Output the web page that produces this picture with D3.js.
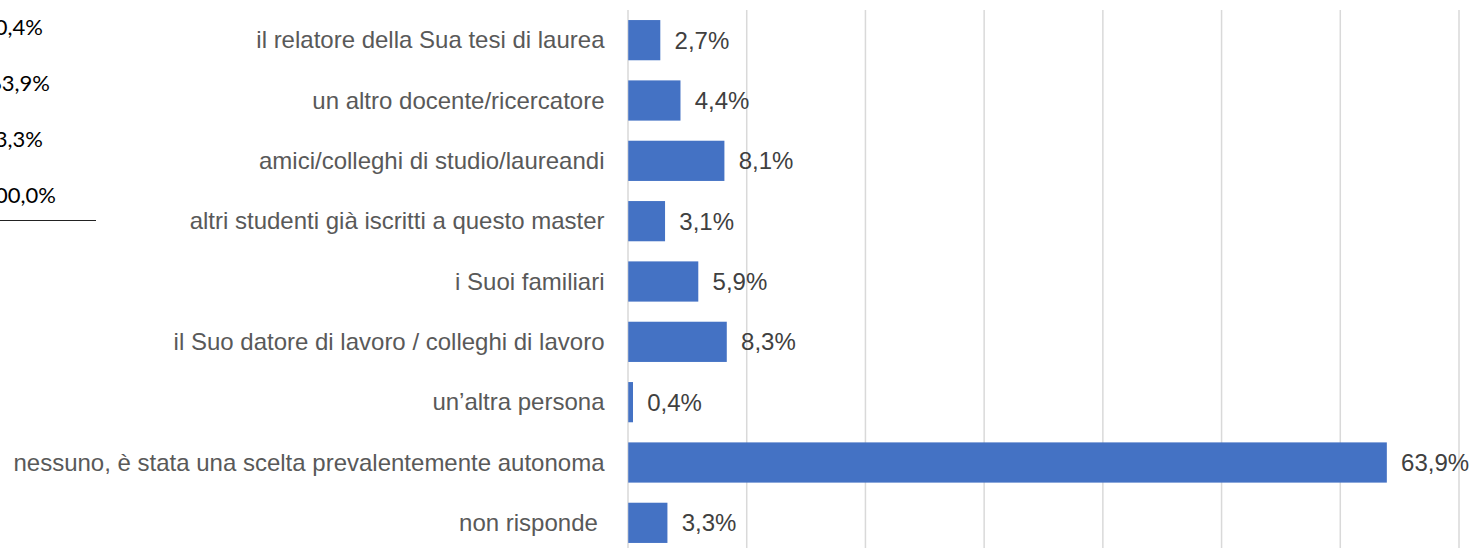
<!DOCTYPE html>
<html lang="it">
  <head>
    <meta charset="UTF-8" />
    <title>Chi ha influito sulla scelta</title>
    <script src="https://d3js.org/d3.v7.min.js"></script>
    <style>
      html,
      body {
        margin: 0;
        padding: 0;
        background: #fff;
        overflow: hidden;
      }
      svg {
        display: block;
      }
      .cat {
        font-family: "Liberation Sans", Arial, sans-serif;
        font-size: 24px;
        fill: #595959;
        white-space: pre;
      }
      .val {
        font-family: "Liberation Sans", Arial, sans-serif;
        font-size: 24px;
        fill: #404040;
      }
      .side {
        font-family: Lato, "Open Sans", sans-serif;
        font-size: 22px;
        fill: #000;
      }
    </style>
  </head>
  <body>
    <svg id="chart" width="1473" height="548"></svg>
    <script>
      // categories and percentages, top to bottom
      const categories = [
        "il relatore della Sua tesi di laurea",
        "un altro docente/ricercatore",
        "amici/colleghi di studio/laureandi",
        "altri studenti già iscritti a questo master",
        "i Suoi familiari",
        "il Suo datore di lavoro / colleghi di lavoro",
        "un\u2019altra persona",
        "nessuno, è stata una scelta prevalentemente autonoma",
        "non risponde ",
      ];
      const values = [2.7, 4.4, 8.1, 3.1, 5.9, 8.3, 0.4, 63.9, 3.3];
      const gridTicks = [0, 10, 20, 30, 40, 50, 60, 70];

      // tail of a table cut off at the left edge of the picture
      const sideLabels = ["0,4%", "63,9%", "3,3%", "100,0%"];

      const svg = d3.select("#chart");

      // plot area
      const plotLeft = 627.5;
      const plotRight = 1458.5;
      const plotTop = 10;
      const plotBottom = 553;

      const x = d3.scaleLinear().domain([0, 70]).range([plotLeft, plotRight]);
      const y = d3
        .scaleBand()
        .domain(categories)
        .range([plotTop, plotBottom])
        .paddingInner(1 / 3)
        .paddingOuter(1 / 6);

      // vertical gridlines
      svg
        .append("g")
        .attr("transform", `translate(0,${plotTop})`)
        .call(
          d3
            .axisBottom(x)
            .tickValues(gridTicks)
            .tickSizeInner(plotBottom - plotTop)
            .tickSizeOuter(0)
            .tickFormat("")
        )
        .call((g) => g.select(".domain").remove())
        .call((g) =>
          g.selectAll("line").attr("stroke", "#d9d9d9").attr("stroke-width", 1.5)
        );

      // bars
      svg
        .append("g")
        .selectAll("rect")
        .data(values)
        .join("rect")
        .attr("x", x(0) + 0.75)
        .attr("y", (d, i) => y(categories[i]))
        .attr("width", (d) => x(d) - x(0))
        .attr("height", y.bandwidth())
        .attr("fill", "#4472c4");

      // value labels
      svg
        .append("g")
        .selectAll("text")
        .data(values)
        .join("text")
        .attr("class", "val")
        .attr("x", (d) => x(d) + 15)
        .attr("y", (d, i) => y(categories[i]) + y.bandwidth() / 2 + 8.5)
        .text((d) => d.toFixed(1).replace(".", ",") + "%");

      // category labels
      svg
        .append("g")
        .selectAll("text")
        .data(categories)
        .join("text")
        .attr("class", "cat")
        .attr("text-anchor", "end")
        .attr("x", 604.5)
        .attr("y", (d) => y(d) + y.bandwidth() / 2 + 8)
        .text((d) => d);

      // partial table on the left
      const sideEnds = [43, 50, 43, 56];
      const sideBase = [35, 91, 147, 203];
      svg
        .append("g")
        .selectAll("text")
        .data(sideLabels)
        .join("text")
        .attr("class", "side")
        .attr("text-anchor", "end")
        .attr("x", (d, i) => sideEnds[i])
        .attr("y", (d, i) => sideBase[i])
        .text((d) => d);

      svg
        .append("line")
        .attr("x1", 0)
        .attr("x2", 96)
        .attr("y1", 220.5)
        .attr("y2", 220.5)
        .attr("stroke", "#222")
        .attr("stroke-width", 1);
    </script>
  </body>
</html>
